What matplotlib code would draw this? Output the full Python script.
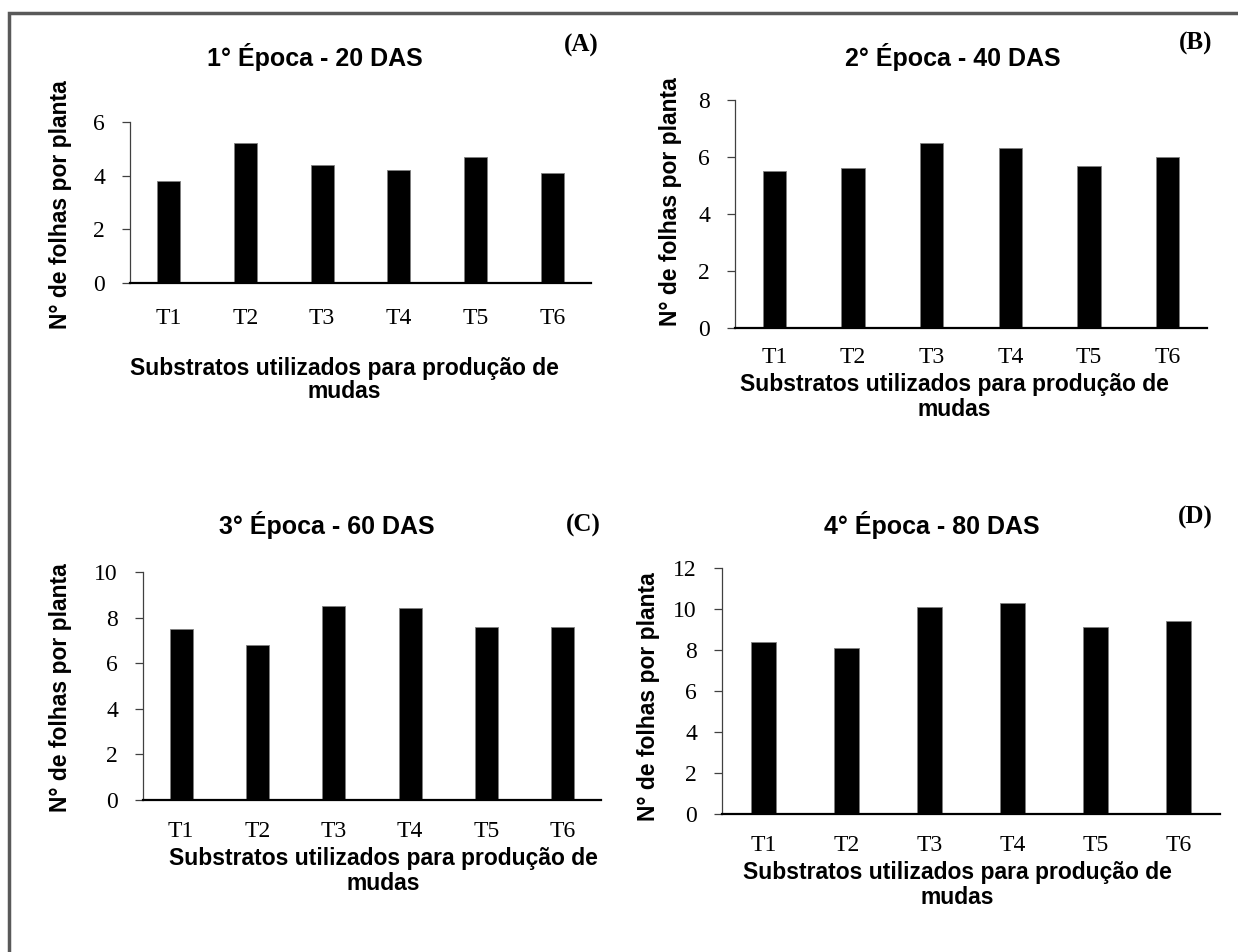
import matplotlib.pyplot as plt
from matplotlib.patches import Rectangle

W, H = 1238, 952

tratamentos = ["T1", "T2", "T3", "T4", "T5", "T6"]
epoca1 = [3.8, 5.2, 4.4, 4.2, 4.7, 4.1]
epoca2 = [5.5, 5.6, 6.5, 6.3, 5.7, 6.0]
epoca3 = [7.5, 6.8, 8.5, 8.4, 7.6, 7.6]
epoca4 = [8.4, 8.1, 10.1, 10.3, 9.1, 9.4]

titulos = ["1° Época - 20 DAS", "2° Época - 40 DAS", "3° Época - 60 DAS", "4° Época - 80 DAS"]
letras = ["(A)", "(B)", "(C)", "(D)"]
ylims = [6, 8, 10, 12]

ylabel = "N° de folhas por planta"
xlabel1 = "Substratos utilizados para produção de"
xlabel2 = "mudas"

SANS = "Liberation Sans"
SERIF = "Liberation Serif"


def fx(x):
    return x / W


def fy(y):
    return 1 - y / H


fig = plt.figure(figsize=(W / 100, H / 100), dpi=100)

# grey frame (only top and left edges visible in the original)
fig.patches.append(Rectangle((fx(9), -0.05), 1.2, fy(13) + 0.05, transform=fig.transFigure,
                             fill=False, edgecolor="#595959", linewidth=2.5))

# panel layout in pixels: axes left, right, y of zero line, y of top,
# title pos, letter pos, ylabel pos, xlabel line positions, x tick pad
paineis = [
    dict(box=(130, 591, 283, 122), tit=(315, 57), let=(581, 45), yl=(60, 205), xl=(344, 368, 392), pad=18),
    dict(box=(735, 1207, 328, 100), tit=(953, 57), let=(1196, 43), yl=(671, 202), xl=(954, 384, 409), pad=14),
    dict(box=(143, 601, 800, 572), tit=(327, 525), let=(583, 525), yl=(61, 688), xl=(383, 859, 884), pad=15),
    dict(box=(722, 1220, 814, 568), tit=(932, 525), let=(1195, 517), yl=(648, 697), xl=(957, 872, 897), pad=15),
]
dados = [epoca1, epoca2, epoca3, epoca4]

for i, p in enumerate(paineis):
    l, r, y0, yt = p["box"]
    ax = fig.add_axes([fx(l), fy(y0), (r - l) / W, (y0 - yt) / H])
    ax.bar(range(len(tratamentos)), dados[i], width=0.3, color="black",
           edgecolor="#808080", linewidth=0.6)
    ax.set_xlim(-0.5, len(tratamentos) - 0.5)
    ax.set_ylim(0, ylims[i])
    ax.set_yticks(range(0, ylims[i] + 1, 2))
    ax.set_xticks(range(len(tratamentos)))
    ax.set_xticklabels(tratamentos)
    for s in ["top", "right"]:
        ax.spines[s].set_visible(False)
    ax.spines["left"].set_color("#404040")
    ax.spines["left"].set_linewidth(0.9)
    ax.spines["bottom"].set_linewidth(1.6)
    ax.tick_params(axis="x", length=0, pad=p["pad"])
    ax.tick_params(axis="y", length=6, width=0.9, color="#404040", pad=12)
    for t in ax.get_xticklabels() + ax.get_yticklabels():
        t.set_fontfamily(SERIF)
        t.set_fontsize(17)

    fig.text(fx(p["tit"][0]), fy(p["tit"][1]), titulos[i], family=SANS, weight="bold",
             fontsize=18, ha="center", va="center")
    fig.text(fx(p["let"][0]), fy(p["let"][1]), letras[i], family=SERIF, weight="bold",
             fontsize=18, ha="center", va="center")
    fig.text(fx(p["yl"][0]), fy(p["yl"][1]), ylabel, family=SANS, weight="bold",
             fontsize=16.5, ha="center", va="center", rotation=90)
    xc, ya, yb = p["xl"]
    fig.text(fx(xc), fy(ya), xlabel1, family=SANS, weight="bold", fontsize=16.5,
             ha="center", va="center")
    fig.text(fx(xc), fy(yb), xlabel2, family=SANS, weight="bold", fontsize=16.5,
             ha="center", va="center")

fig.savefig("out.png", dpi=100)
